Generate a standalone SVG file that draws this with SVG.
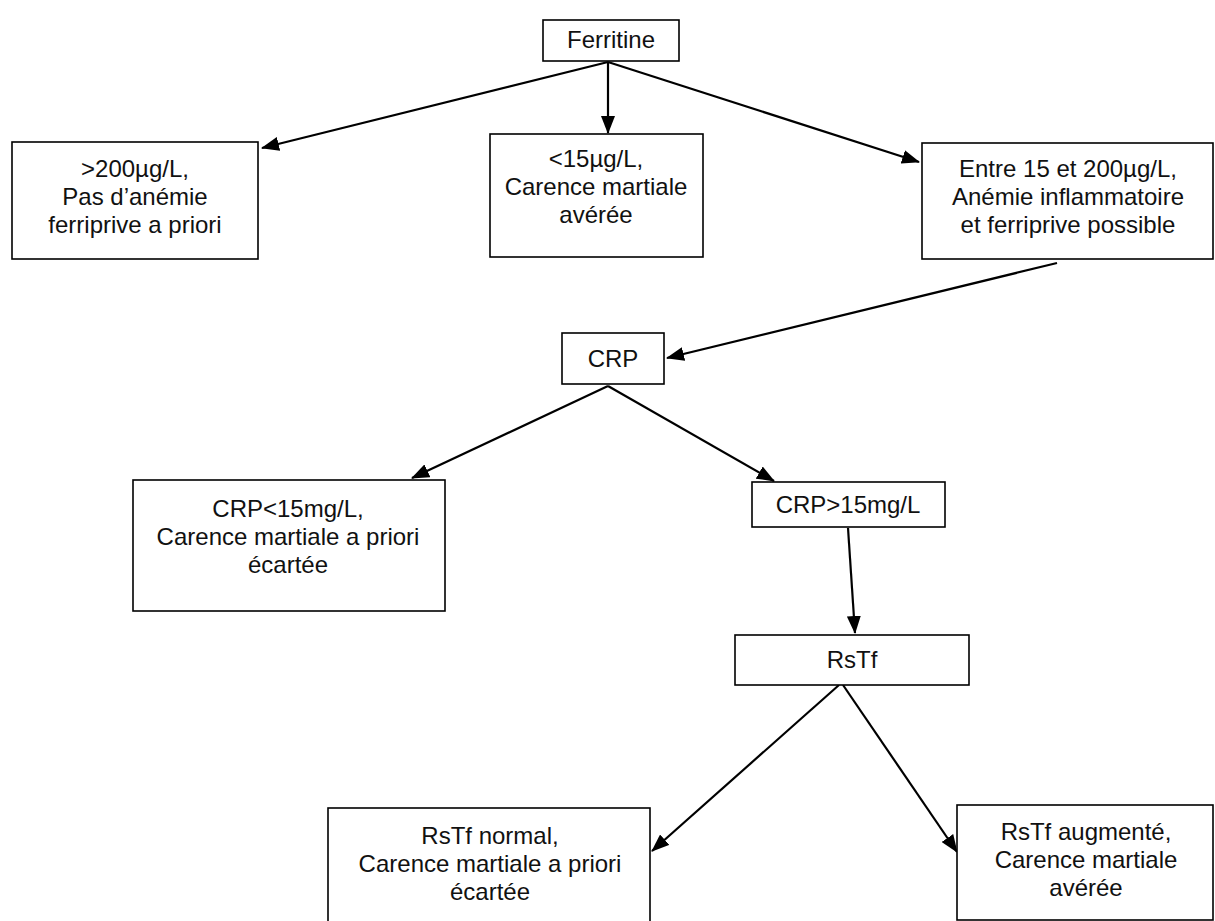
<svg xmlns="http://www.w3.org/2000/svg" width="1215" height="921" viewBox="0 0 1215 921">
<style>
.box{fill:#fff;stroke:#000;stroke-width:1.6}
.t{font-family:"Liberation Sans",Arial,sans-serif;font-size:24px;fill:#111;text-anchor:middle}
.c{fill:none;stroke:#000;stroke-width:2.2}
</style>
<defs>
<marker id="ah" markerUnits="userSpaceOnUse" markerWidth="18" markerHeight="14" refX="17" refY="7" orient="auto" viewBox="0 0 18 14">
<path d="M0,0 L18,7 L0,14 z" fill="#000"/>
</marker>
</defs>
<rect width="1215" height="921" fill="#fff"/>
<g id="connectors">
<line class="c" x1="608" y1="62" x2="262" y2="148" marker-end="url(#ah)"/>
<line class="c" x1="608" y1="62" x2="608" y2="133" marker-end="url(#ah)"/>
<line class="c" x1="608" y1="62" x2="919" y2="162" marker-end="url(#ah)"/>
<line class="c" x1="1057" y1="263" x2="667" y2="358" marker-end="url(#ah)"/>
<line class="c" x1="608" y1="386" x2="412" y2="478" marker-end="url(#ah)"/>
<line class="c" x1="608" y1="386" x2="774" y2="481" marker-end="url(#ah)"/>
<line class="c" x1="848" y1="528" x2="855" y2="633" marker-end="url(#ah)"/>
<line class="c" x1="839" y1="685" x2="652" y2="851" marker-end="url(#ah)"/>
<line class="c" x1="843" y1="685" x2="957" y2="852" marker-end="url(#ah)"/>
</g>
<g id="ferritine">
<rect class="box" x="543" y="20" width="136" height="41"/>
<text class="t" x="611" y="48">Ferritine</text>
</g>
<g id="sup200">
<rect class="box" x="12" y="142" width="246" height="117"/>
<text class="t" x="135" y="177">&gt;200µg/L,</text>
<text class="t" x="135" y="205">Pas d’anémie</text>
<text class="t" x="135" y="233">ferriprive a priori</text>
</g>
<g id="inf15">
<rect class="box" x="490" y="134" width="213" height="123"/>
<text class="t" x="596" y="167">&lt;15µg/L,</text>
<text class="t" x="596" y="195">Carence martiale</text>
<text class="t" x="596" y="223">avérée</text>
</g>
<g id="entre">
<rect class="box" x="922" y="143" width="291" height="116"/>
<text class="t" x="1068" y="177">Entre 15 et 200µg/L,</text>
<text class="t" x="1068" y="205">Anémie inflammatoire</text>
<text class="t" x="1068" y="233">et ferriprive possible</text>
</g>
<g id="crp">
<rect class="box" x="562" y="333" width="102" height="51"/>
<text class="t" x="613" y="367">CRP</text>
</g>
<g id="crpinf">
<rect class="box" x="133" y="480" width="312" height="131"/>
<text class="t" x="288" y="517">CRP&lt;15mg/L,</text>
<text class="t" x="288" y="545">Carence martiale a priori</text>
<text class="t" x="288" y="573">écartée</text>
</g>
<g id="crpsup">
<rect class="box" x="752" y="482" width="193" height="45"/>
<text class="t" x="848" y="513">CRP&gt;15mg/L</text>
</g>
<g id="rstf">
<rect class="box" x="735" y="635" width="234" height="50"/>
<text class="t" x="852" y="668">RsTf</text>
</g>
<g id="rstfnormal">
<rect class="box" x="328" y="808" width="322" height="120"/>
<text class="t" x="490" y="844">RsTf normal,</text>
<text class="t" x="490" y="872">Carence martiale a priori</text>
<text class="t" x="490" y="900">écartée</text>
</g>
<g id="rstfaug">
<rect class="box" x="957" y="805" width="256" height="115"/>
<text class="t" x="1086" y="840">RsTf augmenté,</text>
<text class="t" x="1086" y="868">Carence martiale</text>
<text class="t" x="1086" y="896">avérée</text>
</g>
</svg>
